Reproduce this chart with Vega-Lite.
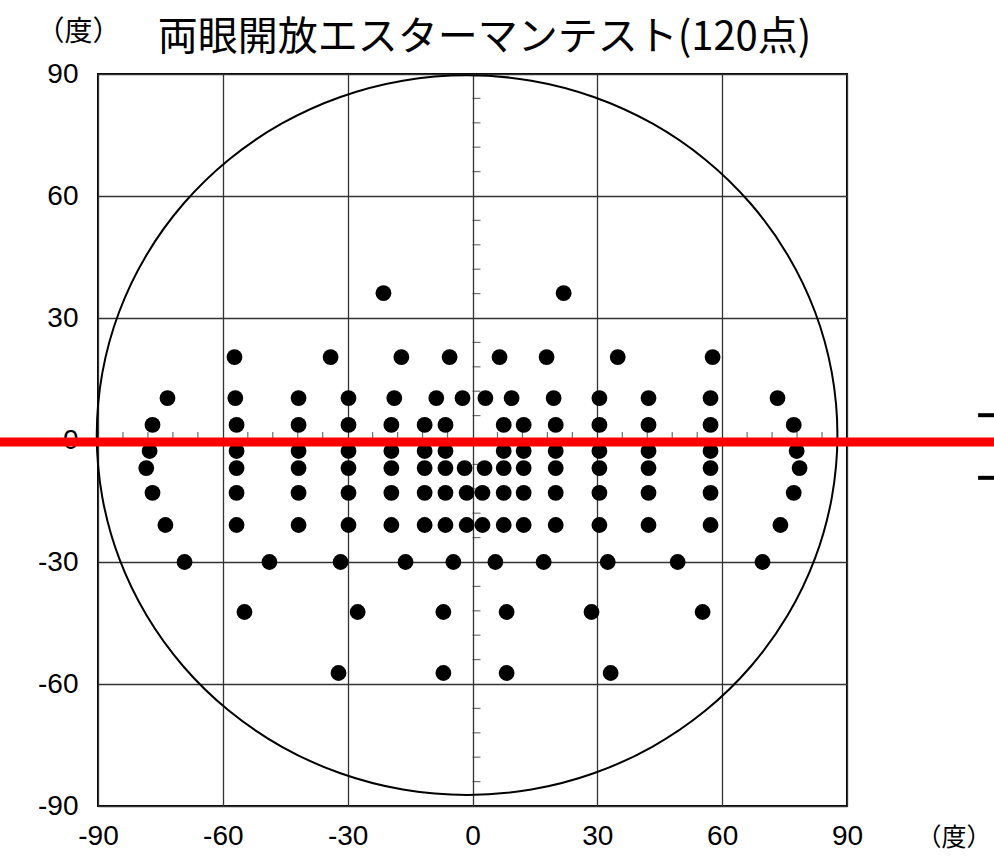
{
  "$schema": "https://vega.github.io/schema/vega-lite/v6.json",
  "width": 749,
  "height": 732,
  "autosize": {"type": "none"},
  "padding": {"left": 98, "top": 74, "right": 147, "bottom": 56},
  "background": "white",
  "config": {
    "view": {"stroke": "black", "strokeWidth": 2},
    "font": "Liberation Sans"
  },
  "title": {
    "text": "両眼開放エスターマンテスト(120点)",
    "font": "Noto Sans CJK JP",
    "fontSize": 40,
    "fontWeight": "normal",
    "color": "black",
    "anchor": "middle",
    "dx": 12,
    "offset": -40
  },
  "datasets": {
    "circle": [
      {"i": 0, "x": 87.7, "y": 1.2}, {"i": 1, "x": 86.35, "y": 16.56}, {"i": 2, "x": 82.33, "y": 31.47},
      {"i": 3, "x": 75.77, "y": 45.45}, {"i": 4, "x": 66.87, "y": 58.09}, {"i": 5, "x": 55.91, "y": 68.99},
      {"i": 6, "x": 43.2, "y": 77.84}, {"i": 7, "x": 29.14, "y": 84.36}, {"i": 8, "x": 14.15, "y": 88.36},
      {"i": 9, "x": -1.3, "y": 89.7}, {"i": 10, "x": -16.75, "y": 88.36}, {"i": 11, "x": -31.74, "y": 84.36},
      {"i": 12, "x": -45.8, "y": 77.84}, {"i": 13, "x": -58.51, "y": 68.99}, {"i": 14, "x": -69.47, "y": 58.09},
      {"i": 15, "x": -78.37, "y": 45.45}, {"i": 16, "x": -84.93, "y": 31.47}, {"i": 17, "x": -88.95, "y": 16.56},
      {"i": 18, "x": -90.3, "y": 1.2}, {"i": 19, "x": -88.95, "y": -14.16}, {"i": 20, "x": -84.93, "y": -29.07},
      {"i": 21, "x": -78.37, "y": -43.05}, {"i": 22, "x": -69.47, "y": -55.69}, {"i": 23, "x": -58.51, "y": -66.59},
      {"i": 24, "x": -45.8, "y": -75.44}, {"i": 25, "x": -31.74, "y": -81.96}, {"i": 26, "x": -16.75, "y": -85.96},
      {"i": 27, "x": -1.3, "y": -87.3}, {"i": 28, "x": 14.15, "y": -85.96}, {"i": 29, "x": 29.14, "y": -81.96},
      {"i": 30, "x": 43.2, "y": -75.44}, {"i": 31, "x": 55.91, "y": -66.59}, {"i": 32, "x": 66.87, "y": -55.69},
      {"i": 33, "x": 75.77, "y": -43.05}, {"i": 34, "x": 82.33, "y": -29.07}, {"i": 35, "x": 86.35, "y": -14.16}
    ],
    "minor": [
      {"v": -84}, {"v": -78}, {"v": -72}, {"v": -66}, {"v": -54}, {"v": -48}, {"v": -42}, {"v": -36},
      {"v": -24}, {"v": -18}, {"v": -12}, {"v": -6}, {"v": 6}, {"v": 12}, {"v": 18}, {"v": 24},
      {"v": 36}, {"v": 42}, {"v": 48}, {"v": 54}, {"v": 66}, {"v": 72}, {"v": 78}, {"v": 84}
    ],
    "points": [
      {"x": -21.4, "y": 36.1}, {"x": 21.9, "y": 36.1},
      {"x": -57.2, "y": 20.4}, {"x": -34.1, "y": 20.4}, {"x": -17.1, "y": 20.4}, {"x": -5.5, "y": 20.4},
      {"x": 6.5, "y": 20.4}, {"x": 17.8, "y": 20.4}, {"x": 34.9, "y": 20.4}, {"x": 57.7, "y": 20.4},
      {"x": -73.3, "y": 10.3}, {"x": -57.0, "y": 10.3}, {"x": -41.8, "y": 10.3}, {"x": -29.8, "y": 10.3},
      {"x": -18.8, "y": 10.3}, {"x": -8.7, "y": 10.3}, {"x": -2.4, "y": 10.3}, {"x": 3.1, "y": 10.3},
      {"x": 9.4, "y": 10.3}, {"x": 19.5, "y": 10.3}, {"x": 30.5, "y": 10.3}, {"x": 42.3, "y": 10.3},
      {"x": 57.2, "y": 10.3}, {"x": 73.3, "y": 10.3},
      {"x": -76.9, "y": 3.7}, {"x": -56.7, "y": 3.7}, {"x": -41.8, "y": 3.7}, {"x": -29.8, "y": 3.7},
      {"x": -19.5, "y": 3.7}, {"x": -11.5, "y": 3.7}, {"x": -6.5, "y": 3.7}, {"x": 7.5, "y": 3.7},
      {"x": 12.3, "y": 3.7}, {"x": 20.0, "y": 3.7}, {"x": 30.5, "y": 3.7}, {"x": 42.3, "y": 3.7},
      {"x": 57.2, "y": 3.7}, {"x": 77.2, "y": 3.7},
      {"x": -77.6, "y": -2.7}, {"x": -56.7, "y": -2.7}, {"x": -41.8, "y": -2.7}, {"x": -29.8, "y": -2.7},
      {"x": -19.5, "y": -2.7}, {"x": -11.5, "y": -2.7}, {"x": -6.5, "y": -2.7}, {"x": 7.5, "y": -2.7},
      {"x": 12.3, "y": -2.7}, {"x": 20.0, "y": -2.7}, {"x": 30.5, "y": -2.7}, {"x": 42.3, "y": -2.7},
      {"x": 57.2, "y": -2.7}, {"x": 77.9, "y": -2.7},
      {"x": -78.4, "y": -6.9}, {"x": -56.7, "y": -6.9}, {"x": -41.8, "y": -6.9}, {"x": -29.8, "y": -6.9},
      {"x": -19.5, "y": -6.9}, {"x": -11.5, "y": -6.9}, {"x": -6.5, "y": -6.9}, {"x": -1.9, "y": -6.9},
      {"x": 2.9, "y": -6.9}, {"x": 7.5, "y": -6.9}, {"x": 12.3, "y": -6.9}, {"x": 20.0, "y": -6.9},
      {"x": 30.5, "y": -6.9}, {"x": 42.3, "y": -6.9}, {"x": 57.2, "y": -6.9}, {"x": 78.6, "y": -6.9},
      {"x": -76.9, "y": -13.0}, {"x": -56.7, "y": -13.0}, {"x": -41.8, "y": -13.0}, {"x": -29.8, "y": -13.0},
      {"x": -19.5, "y": -13.0}, {"x": -11.5, "y": -13.0}, {"x": -6.5, "y": -13.0}, {"x": -1.4, "y": -13.0},
      {"x": 2.4, "y": -13.0}, {"x": 7.5, "y": -13.0}, {"x": 12.3, "y": -13.0}, {"x": 20.0, "y": -13.0},
      {"x": 30.5, "y": -13.0}, {"x": 42.3, "y": -13.0}, {"x": 57.2, "y": -13.0}, {"x": 77.2, "y": -13.0},
      {"x": -73.8, "y": -20.9}, {"x": -56.7, "y": -20.9}, {"x": -41.8, "y": -20.9}, {"x": -29.8, "y": -20.9},
      {"x": -19.5, "y": -20.9}, {"x": -11.5, "y": -20.9}, {"x": -6.5, "y": -20.9}, {"x": -1.4, "y": -20.9},
      {"x": 2.4, "y": -20.9}, {"x": 7.5, "y": -20.9}, {"x": 12.3, "y": -20.9}, {"x": 20.0, "y": -20.9},
      {"x": 30.5, "y": -20.9}, {"x": 42.3, "y": -20.9}, {"x": 57.2, "y": -20.9}, {"x": 74.0, "y": -20.9},
      {"x": -69.2, "y": -30.0}, {"x": -48.8, "y": -30.0}, {"x": -31.7, "y": -30.0}, {"x": -16.1, "y": -30.0},
      {"x": -4.6, "y": -30.0}, {"x": 5.5, "y": -30.0}, {"x": 17.1, "y": -30.0}, {"x": 32.5, "y": -30.0},
      {"x": 49.3, "y": -30.0}, {"x": 69.7, "y": -30.0},
      {"x": -54.8, "y": -42.3}, {"x": -27.6, "y": -42.3}, {"x": -7.0, "y": -42.3}, {"x": 8.2, "y": -42.3},
      {"x": 28.6, "y": -42.3}, {"x": 55.3, "y": -42.3},
      {"x": -32.2, "y": -57.3}, {"x": -7.0, "y": -57.3}, {"x": 8.2, "y": -57.3}, {"x": 33.2, "y": -57.3}
    ],
    "redline": [{"x": -120, "x2": 130, "y": -0.5}],
    "dashes": [{"x": 121.5, "x2": 127, "y": 6.1}, {"x": 121.5, "x2": 127, "y": -9.3}]
  },
  "layer": [
    {
      "data": {"name": "circle"},
      "mark": {"type": "line", "interpolate": "cardinal-closed", "stroke": "black", "strokeWidth": 2},
      "encoding": {
        "x": {
          "field": "x", "type": "quantitative",
          "scale": {"domain": [-90, 90], "nice": false, "zero": false},
          "axis": {
            "values": [-90, -60, -30, 0, 30, 60, 90],
            "labelExpr": "replace(datum.label, '−', '-')",
            "title": "（度）",
            "titleX": 818, "titleY": 31,
            "titleAlign": "left", "titleBaseline": "middle",
            "titleFont": "Noto Sans CJK JP", "titleFontSize": 25, "titleFontWeight": "normal", "titleColor": "black",
            "labelFont": "Liberation Sans", "labelFontSize": 28, "labelPadding": 16, "labelColor": "black", "labelFlush": false,
            "ticks": false, "tickSize": 0, "domain": false,
            "grid": true, "gridColor": "#333333", "gridWidth": 1.3, "gridOpacity": 1
          }
        },
        "y": {
          "field": "y", "type": "quantitative",
          "scale": {"domain": [-90, 90], "nice": false, "zero": false},
          "axis": {
            "values": [-90, -60, -30, 0, 30, 60, 90],
            "labelExpr": "replace(datum.label, '−', '-')",
            "title": "（度）",
            "titleAngle": 0,
            "titleX": -62, "titleY": -42,
            "titleAlign": "left", "titleBaseline": "middle",
            "titleFont": "Noto Sans CJK JP", "titleFontSize": 28, "titleFontWeight": "normal", "titleColor": "black",
            "labelFont": "Liberation Sans", "labelFontSize": 28, "labelPadding": 20, "labelColor": "black", "labelFlush": false,
            "ticks": false, "tickSize": 0, "domain": false,
            "grid": true, "gridColor": "#333333", "gridWidth": 1.3, "gridOpacity": 1
          }
        },
        "order": {"field": "i", "type": "quantitative"}
      }
    },
    {
      "data": {"name": "minor"},
      "mark": {"type": "tick", "orient": "vertical", "size": 8, "thickness": 1.2, "yOffset": -4, "color": "#333333"},
      "encoding": {
        "x": {"field": "v", "type": "quantitative"},
        "y": {"datum": 0, "type": "quantitative"}
      }
    },
    {
      "data": {"name": "minor"},
      "mark": {"type": "tick", "orient": "horizontal", "size": 8, "thickness": 1.2, "xOffset": 4, "color": "#333333"},
      "encoding": {
        "y": {"field": "v", "type": "quantitative"},
        "x": {"datum": 0, "type": "quantitative"}
      }
    },
    {
      "data": {"name": "points"},
      "mark": {"type": "point", "shape": "circle", "filled": true, "size": 250, "color": "black", "opacity": 1},
      "encoding": {
        "x": {"field": "x", "type": "quantitative"},
        "y": {"field": "y", "type": "quantitative"}
      }
    },
    {
      "data": {"name": "redline"},
      "mark": {"type": "rule", "color": "#ff0000", "strokeWidth": 9, "clip": false},
      "encoding": {
        "x": {"field": "x", "type": "quantitative"},
        "x2": {"field": "x2"},
        "y": {"field": "y", "type": "quantitative"}
      }
    },
    {
      "data": {"name": "dashes"},
      "mark": {"type": "rule", "color": "black", "strokeWidth": 4, "clip": false},
      "encoding": {
        "x": {"field": "x", "type": "quantitative"},
        "x2": {"field": "x2"},
        "y": {"field": "y", "type": "quantitative"}
      }
    }
  ]
}
